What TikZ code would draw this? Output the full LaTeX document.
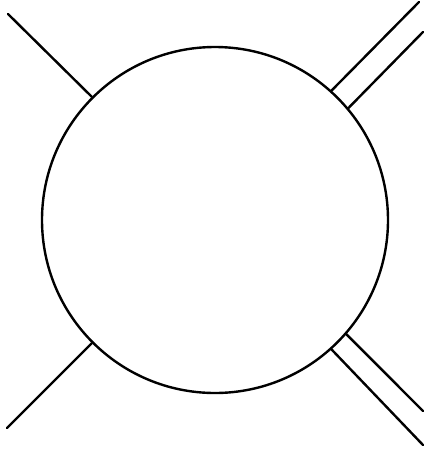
\documentclass[tikz,border=0pt]{standalone}
\begin{document}
\begin{tikzpicture}[x=1pt,y=-1pt,
  leg/.style={line width=2.4pt,line cap=round},
  blob/.style={circle,draw,line width=2.4pt,minimum size=346pt,inner sep=0pt}]
\useasboundingbox (0,0) rectangle (429,451);
\node[blob] (c) at (215,220) {};
\coordinate (tl) at (8,14);
\coordinate (bl) at (7,428);
\coordinate (tr1) at (419,2);
\coordinate (tr2) at (423,32);
\coordinate (br1) at (423,445);
\coordinate (br2) at (423,411);
\draw[leg] (c.135) -- (tl);
\draw[leg] (c.-135) -- (bl);
\draw[leg] (c.48.3) -- (tr1);
\draw[leg] (c.40.3) -- (tr2);
\draw[leg] (c.-48.7) -- (br1);
\draw[leg] (c.-41) -- (br2);
\end{tikzpicture}
\end{document}
